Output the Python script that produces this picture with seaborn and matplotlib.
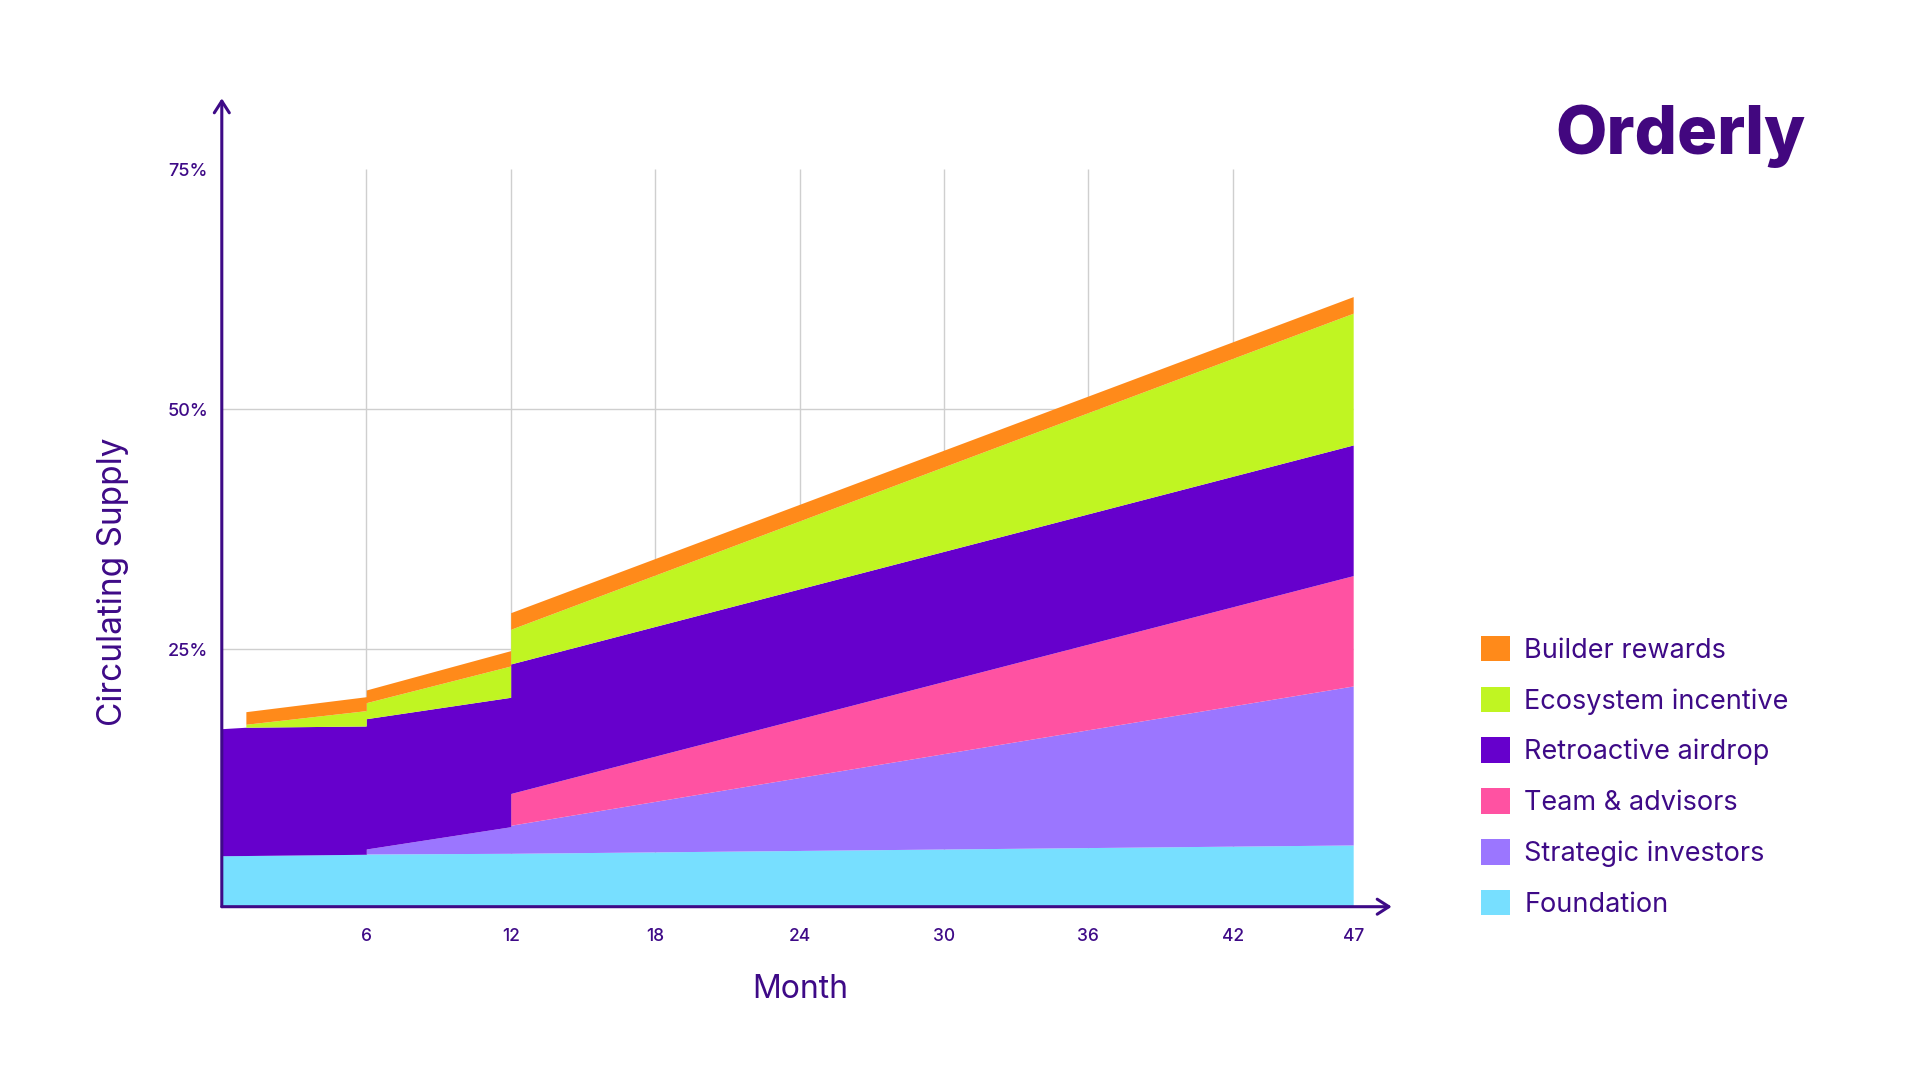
import numpy as np
import matplotlib.pyplot as plt
import seaborn as sns
from matplotlib.patches import Patch

# months with repeated entries where the unlocks step up
months = [0, 1, 1, 6, 6, 12, 12, 47]

# share of total supply added by each bucket (% , stacked bottom -> top)
foundation = [3.52, 3.54, 3.54, 3.67, 3.70, 3.77, 3.77, 4.64]
strategic = [0.0, 0.0, 0.0, 0.0, 0.52, 2.77, 2.92, 16.56]
team = [0.0, 0.0, 0.0, 0.0, 0.0, 0.0, 3.31, 11.49]
retro = [13.23, 13.36, 13.36, 13.36, 13.57, 13.48, 13.49, 13.61]
ecosystem = [0.0, 0.0, 0.31, 1.60, 1.67, 3.26, 3.61, 13.72]
builder = [0.0, 0.0, 1.31, 1.45, 1.32, 1.60, 1.73, 1.73]

labels = ["Foundation", "Strategic investors", "Team & advisors",
          "Retroactive airdrop", "Ecosystem incentive", "Builder rewards"]
colors = ["#77DFFF", "#9B76FF", "#FF52A2", "#6600CC", "#C0F522", "#FF8A1A"]

x_ticks = [6, 12, 18, 24, 30, 36, 42, 47]
y_ticks = [25, 50, 75]
y_tick_labels = ["25%", "50%", "75%"]

ink = "#3E0A87"
grid = "#CFCFCF"

sns.set_theme(style="white")
plt.rcParams['font.family'] = ['Inter', 'DejaVu Sans']

fig = plt.figure(figsize=(19.2, 10.8), dpi=100)
ax = fig.add_axes([221.8 / 1920, (1080 - 906.7) / 1080,
                   (1391.7 - 221.8) / 1920, (906.7 - 98.3) / 1080])
y_lo, y_hi = -1.79, 82.4
ax.set_xlim(0, 48.6)
ax.set_ylim(y_lo, y_hi)

# light grid behind the areas
ax.vlines(x_ticks[:-1], y_lo, 75, color=grid, lw=1, zorder=0)
ax.hlines([25, 50], 0, 47, color=grid, lw=1, zorder=0)

# stacked areas
bands = np.array([foundation, strategic, team, retro, ecosystem, builder])
tops = np.cumsum(bands, axis=0)
bottoms = tops - bands
bottoms[0] = y_lo
for i in range(len(bands)):
    ax.fill_between(months, bottoms[i], tops[i], color=colors[i], lw=0, zorder=2)

# axes drawn as arrows
for sp in ax.spines.values():
    sp.set_visible(False)
arrow = dict(arrowstyle="->,head_length=0.7,head_width=0.45", color=ink, lw=2.2,
             shrinkA=0, shrinkB=0)
ax.annotate("", xy=(48.6, y_lo), xytext=(0, y_lo), arrowprops=arrow,
            annotation_clip=False, zorder=5)
ax.annotate("", xy=(0, y_hi), xytext=(0, y_lo), arrowprops=arrow,
            annotation_clip=False, zorder=5)

ax.set_xticks(x_ticks)
ax.set_xticklabels([str(m) for m in x_ticks])
ax.set_yticks(y_ticks)
ax.set_yticklabels(y_tick_labels)
ax.tick_params(axis="x", length=0, pad=15, labelsize=12.5, labelcolor=ink)
ax.tick_params(axis="y", length=0, pad=10, labelsize=13, labelcolor=ink)
for t in ax.get_xticklabels() + ax.get_yticklabels():
    t.set_fontweight("medium")
ax.grid(False)
ax.set_facecolor("white")

fig.text(800 / 1920, 1 - 989 / 1080, "Month", ha="center", va="center",
         fontsize=23, color=ink)
fig.text(112.6 / 1920, 1 - 581.6 / 1080, "Circulating Supply", ha="center",
         va="center", rotation=90, fontsize=24, color=ink)

# logo wordmark
fig.text(1555 / 1920, 1 - 136 / 1080, "Orderly", ha="left", va="center",
         fontsize=48, fontweight="heavy", color="#42077F")

handles = [Patch(facecolor=c, edgecolor="none", label=l)
           for c, l in zip(colors[::-1], labels[::-1])]
fig.legend(handles=handles, loc="upper left",
           bbox_to_anchor=(1470 / 1920, 1 - 625 / 1080), frameon=False,
           fontsize=19.5, labelcolor=ink, handlelength=1.08, handleheight=1.08,
           handletextpad=0.52, labelspacing=0.84, borderaxespad=0)

fig.savefig("out.png", dpi=100, facecolor="white")
